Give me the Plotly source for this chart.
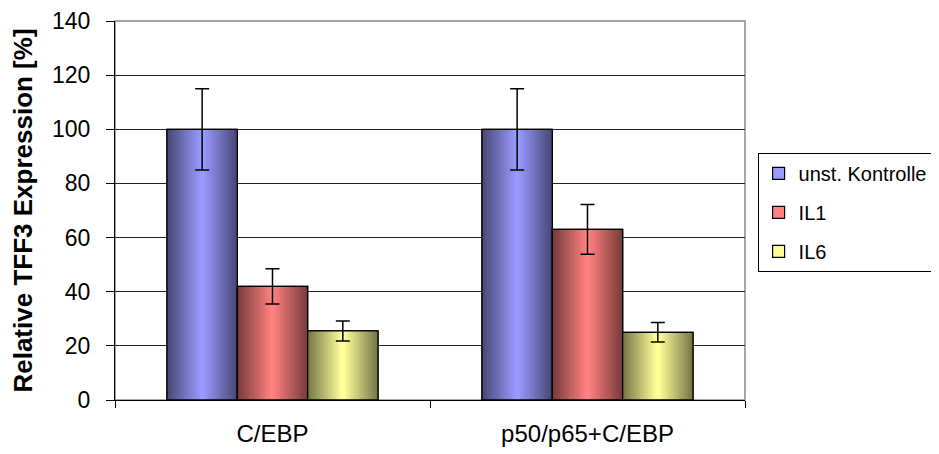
import plotly.graph_objects as go

categories = ["C/EBP", "p50/p65+C/EBP"]
series_names = ["unst. Kontrolle", "IL1", "IL6"]
kontrolle = [100, 100]
il1 = [42, 63]
il6 = [25.5, 25]
kontrolle_err = [15, 15]
il1_err = [6.5, 9.2]
il6_err = [3.7, 3.6]
y_ticks = [0, 20, 40, 60, 80, 100, 120, 140]

values = [kontrolle, il1, il6]
errors = [kontrolle_err, il1_err, il6_err]
light = [(153, 153, 255), (255, 128, 128), (255, 255, 153)]
dark = [(74, 74, 122), (122, 61, 61), (122, 122, 72)]

FONT = "Liberation Sans, Arial, sans-serif"
fig = go.Figure()

w = 0.2233
start = -0.335
n = 14

def rgb(c):
    return "rgb(%d,%d,%d)" % c

for i, name in enumerate(series_names):
    off = start + i * w
    fig.add_trace(go.Bar(
        x=categories, y=values[i], name=name, offset=off, width=w,
        marker=dict(color=rgb(light[i]), line=dict(color="black", width=1.2)),
        legendgroup=name, showlegend=True, hoverinfo="skip"))
    for k in range(n):
        t = k / (n - 1)
        c = tuple(int(round(dark[i][j] + (light[i][j] - dark[i][j]) * t)) for j in range(3))
        inset = k * w / (2 * n)
        fig.add_trace(go.Bar(
            x=categories, y=values[i], offset=off + inset, width=w - 2 * inset,
            marker=dict(color=rgb(c), line=dict(width=0)),
            legendgroup=name, showlegend=False, hoverinfo="skip"))
    fig.add_trace(go.Bar(
        x=categories, y=values[i], offset=off, width=w,
        marker=dict(color="rgba(0,0,0,0)", line=dict(color="black", width=1.3)),
        error_y=dict(type="data", array=errors[i], color="black", thickness=1.5, width=7),
        legendgroup=name, showlegend=False, hoverinfo="skip"))

# page has an 8px body margin, so the figure is 8px smaller and left/top margins shifted
fig.update_layout(
    width=931, height=446,
    margin=dict(l=107, r=194, t=13, b=54, autoexpand=False),
    paper_bgcolor="white", plot_bgcolor="white",
    barmode="overlay",
    font=dict(family=FONT, color="black"),
    legend=dict(x=1.02, y=0.652, xanchor="left", yanchor="top",
                bordercolor="black", borderwidth=1, font=dict(size=20),
                tracegroupgap=10, traceorder="grouped"),
    shapes=[dict(type="rect", xref="paper", yref="paper", x0=0, x1=1, y0=0, y1=1,
                 line=dict(color="#888888", width=1.5), layer="below")],
)
fig.update_xaxes(type="category", range=[-0.5, 1.5], tickson="boundaries",
                 ticks="outside", ticklen=7, tickcolor="black",
                 showline=True, linecolor="black", linewidth=1, automargin=False,
                 tickfont=dict(size=24), ticklabelstandoff=12, showgrid=False)
fig.update_yaxes(range=[0, 140], tickvals=y_ticks, ticks="outside", ticklen=8,
                 tickcolor="black", showline=True, linecolor="black", linewidth=1,
                 gridcolor="#222222", gridwidth=1, zeroline=False, automargin=False,
                 tickfont=dict(size=23), ticklabelstandoff=11,
                 title=dict(text="<b>Relative TFF3 Expression [%]</b>", font=dict(size=26), standoff=12))

fig.write_html("out.html")
